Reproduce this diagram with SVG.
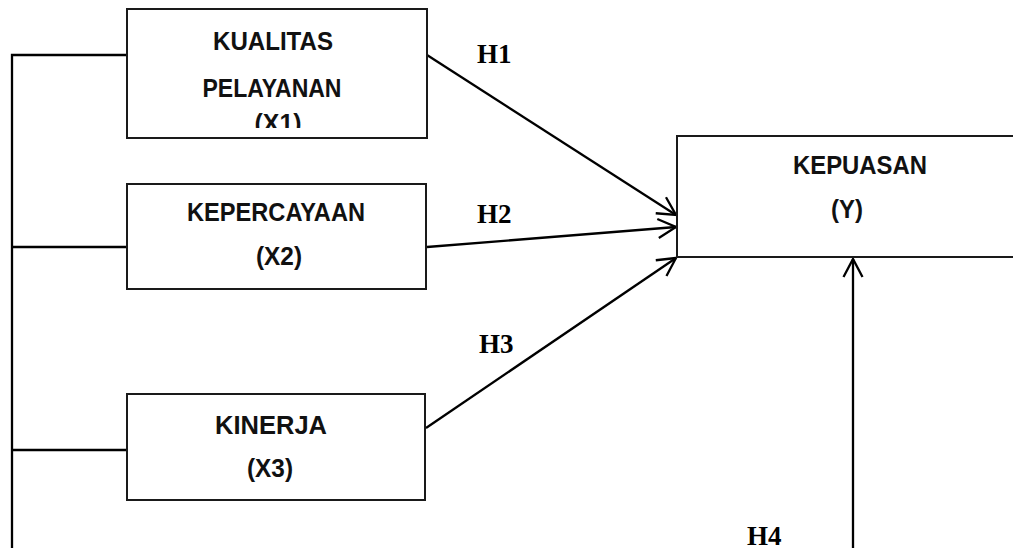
<svg xmlns="http://www.w3.org/2000/svg" width="1013" height="548" viewBox="0 0 1013 548">
  <style>
    .box { fill: #ffffff; stroke: #1a1a1a; stroke-width: 2; }
    .lbl { font-family: "Liberation Sans", Arial, sans-serif; font-weight: bold; font-size: 25px; fill: #111; text-anchor: middle; }
    .hyp { font-family: "Liberation Serif", "Times New Roman", serif; font-weight: bold; font-size: 27px; fill: #000; }
    .conn { fill: none; stroke: #000; stroke-width: 2.3; }
  </style>
  <defs>
    <marker id="arr" markerUnits="userSpaceOnUse" markerWidth="26" markerHeight="26" viewBox="-22 -13 26 26" refX="0" refY="0" orient="auto">
      <path d="M-18,-9.5 L0,0 L-18,9.5" fill="none" stroke="#000" stroke-width="2.3"/>
    </marker>
    <clipPath id="clipX1">
      <rect x="127" y="9" width="300" height="119"/>
    </clipPath>
  </defs>
  <rect width="1013" height="548" fill="#ffffff"/>

  <g id="connectors">
    <polyline class="conn" points="12,549 12,55 127,55"/>
    <line class="conn" x1="12" y1="247" x2="127" y2="247"/>
    <line class="conn" x1="12" y1="450" x2="127" y2="450"/>
    <line class="conn" x1="427" y1="55" x2="676" y2="215" marker-end="url(#arr)"/>
    <line class="conn" x1="427" y1="247" x2="676" y2="227" marker-end="url(#arr)"/>
    <line class="conn" x1="426" y1="428" x2="676" y2="258" marker-end="url(#arr)"/>
    <line class="conn" x1="853" y1="549" x2="853" y2="259" marker-end="url(#arr)"/>
    <text class="hyp" x="477" y="63">H1</text>
    <text class="hyp" x="477" y="223">H2</text>
    <text class="hyp" x="479" y="353">H3</text>
    <text class="hyp" x="747" y="545">H4</text>
  </g>

  <g id="node-x1">
    <rect class="box" x="127" y="9" width="300" height="129"/>
    <g clip-path="url(#clipX1)">
      <text class="lbl" x="273" y="50" textLength="120" lengthAdjust="spacingAndGlyphs">KUALITAS</text>
      <text class="lbl" x="272" y="97" textLength="139" lengthAdjust="spacingAndGlyphs">PELAYANAN</text>
      <text class="lbl" x="278" y="132" textLength="47" lengthAdjust="spacingAndGlyphs">(X1)</text>
    </g>
  </g>

  <g id="node-x2">
    <rect class="box" x="127" y="184" width="299" height="105"/>
    <text class="lbl" x="276" y="221" textLength="178" lengthAdjust="spacingAndGlyphs">KEPERCAYAAN</text>
    <text class="lbl" x="279" y="265" textLength="46" lengthAdjust="spacingAndGlyphs">(X2)</text>
  </g>

  <g id="node-x3">
    <rect class="box" x="127" y="394" width="298" height="106"/>
    <text class="lbl" x="271" y="434" textLength="112" lengthAdjust="spacingAndGlyphs">KINERJA</text>
    <text class="lbl" x="270" y="477" textLength="46" lengthAdjust="spacingAndGlyphs">(X3)</text>
  </g>

  <g id="node-y">
    <rect class="box" x="677" y="136" width="400" height="121"/>
    <text class="lbl" x="860" y="174" textLength="134" lengthAdjust="spacingAndGlyphs">KEPUASAN</text>
    <text class="lbl" x="847" y="218" textLength="32" lengthAdjust="spacingAndGlyphs">(Y)</text>
  </g>
</svg>
